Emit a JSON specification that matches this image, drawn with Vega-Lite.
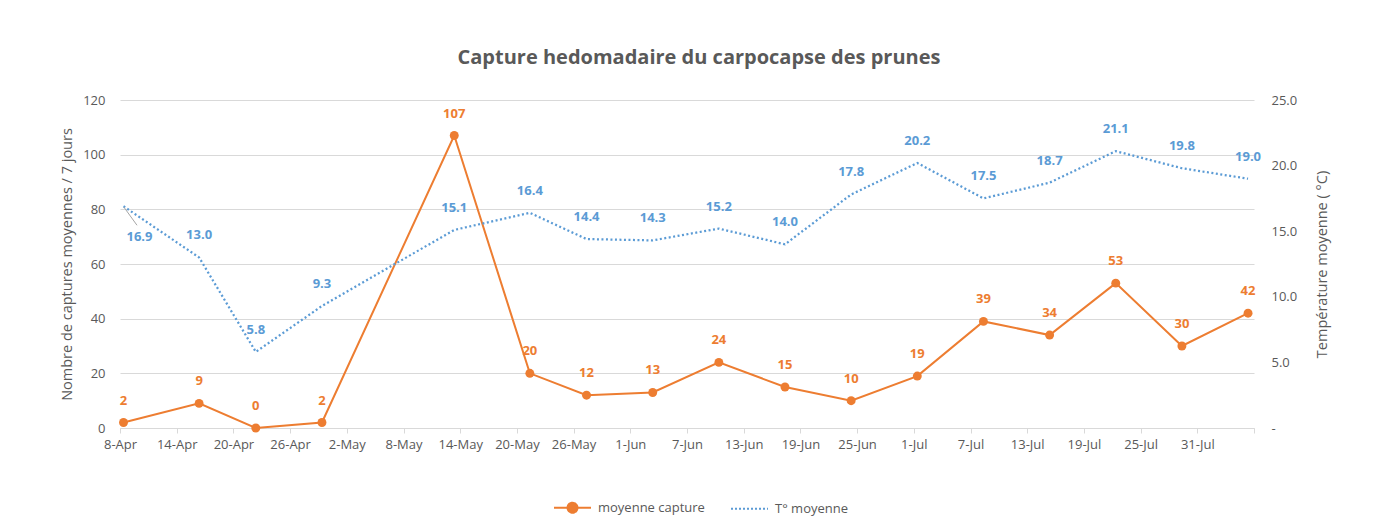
{
  "$schema": "https://vega.github.io/schema/vega-lite/v6.json",
  "width": 1134,
  "height": 328,
  "autosize": {"type": "none"},
  "padding": {"left": 120, "top": 100, "right": 134, "bottom": 99},
  "background": "white",
  "title": {
    "text": "Capture hedomadaire du carpocapse des prunes",
    "fontSize": 20,
    "font": "Open Sans",
    "fontWeight": "bold",
    "color": "#595959",
    "anchor": "middle",
    "dx": 12,
    "offset": 26
  },
  "config": {
    "font": "Open Sans",
    "view": {"stroke": null},
    "axis": {
      "labelColor": "#595959",
      "titleColor": "#595959",
      "labelFontSize": 13,
      "titleFontSize": 14.5,
      "titleFontWeight": "normal",
      "gridColor": "#D9D9D9",
      "domainColor": "#D9D9D9",
      "tickColor": "#D9D9D9"
    }
  },
  "data": {
    "values": [
      {"date": "2019-04-08", "capture": 2, "temp": 16.9},
      {"date": "2019-04-16", "capture": 9, "temp": 13.0},
      {"date": "2019-04-22", "capture": 0, "temp": 5.8},
      {"date": "2019-04-29", "capture": 2, "temp": 9.3},
      {"date": "2019-05-13", "capture": 107, "temp": 15.1},
      {"date": "2019-05-21", "capture": 20, "temp": 16.4},
      {"date": "2019-05-27", "capture": 12, "temp": 14.4},
      {"date": "2019-06-03", "capture": 13, "temp": 14.3},
      {"date": "2019-06-10", "capture": 24, "temp": 15.2},
      {"date": "2019-06-17", "capture": 15, "temp": 14.0},
      {"date": "2019-06-24", "capture": 10, "temp": 17.8},
      {"date": "2019-07-01", "capture": 19, "temp": 20.2},
      {"date": "2019-07-08", "capture": 39, "temp": 17.5},
      {"date": "2019-07-15", "capture": 34, "temp": 18.7},
      {"date": "2019-07-22", "capture": 53, "temp": 21.1},
      {"date": "2019-07-29", "capture": 30, "temp": 19.8},
      {"date": "2019-08-05", "capture": 42, "temp": 19.0}
    ]
  },
  "encoding": {
    "x": {
      "field": "date",
      "type": "temporal",
      "scale": {
        "type": "utc",
        "domain": [
          {"year": 2019, "month": 4, "date": 8, "utc": true},
          {"year": 2019, "month": 8, "date": 6, "utc": true}
        ]
      },
      "axis": {
        "title": null,
        "grid": false,
        "labelExpr": "utcFormat(datum.value, '%m-%d') == '08-06' ? '' : utcFormat(datum.value, '%-d-%b')",
        "labelAngle": 0,
        "tickSize": 5,
        "labelPadding": 5,
        "labelDx": 3.5,
        "labelFlush": false,
        "labelOverlap": false,
        "values": [
          {"year": 2019, "month": 4, "date": 8, "utc": true},
          {"year": 2019, "month": 4, "date": 14, "utc": true},
          {"year": 2019, "month": 4, "date": 20, "utc": true},
          {"year": 2019, "month": 4, "date": 26, "utc": true},
          {"year": 2019, "month": 5, "date": 2, "utc": true},
          {"year": 2019, "month": 5, "date": 8, "utc": true},
          {"year": 2019, "month": 5, "date": 14, "utc": true},
          {"year": 2019, "month": 5, "date": 20, "utc": true},
          {"year": 2019, "month": 5, "date": 26, "utc": true},
          {"year": 2019, "month": 6, "date": 1, "utc": true},
          {"year": 2019, "month": 6, "date": 7, "utc": true},
          {"year": 2019, "month": 6, "date": 13, "utc": true},
          {"year": 2019, "month": 6, "date": 19, "utc": true},
          {"year": 2019, "month": 6, "date": 25, "utc": true},
          {"year": 2019, "month": 7, "date": 1, "utc": true},
          {"year": 2019, "month": 7, "date": 7, "utc": true},
          {"year": 2019, "month": 7, "date": 13, "utc": true},
          {"year": 2019, "month": 7, "date": 19, "utc": true},
          {"year": 2019, "month": 7, "date": 25, "utc": true},
          {"year": 2019, "month": 7, "date": 31, "utc": true},
          {"year": 2019, "month": 8, "date": 6, "utc": true}
        ]
      }
    }
  },
  "layer": [
    {
      "encoding": {
        "y": {
          "field": "capture",
          "type": "quantitative",
          "scale": {"domain": [0, 120], "nice": false},
          "axis": {
            "title": "Nombre de captures moyennes / 7 jours",
            "values": [0, 20, 40, 60, 80, 100, 120],
            "grid": true,
            "domain": false,
            "ticks": false,
            "labelPadding": 15,
            "titlePadding": 8
          }
        }
      },
      "layer": [
        {
          "mark": {"type": "line", "strokeWidth": 2, "xOffset": 3.5},
          "encoding": {
            "color": {
              "datum": "moyenne capture",
              "scale": {"domain": ["moyenne capture", "T° moyenne"], "range": ["#ED7D31", "#5B9BD5"]},
              "legend": {
                "orient": "none",
                "legendX": 433,
                "legendY": 388,
                "direction": "horizontal",
                "title": null,
                "labelFontSize": 13,
                "labelColor": "#595959",
                "symbolSize": 1369,
                "symbolStrokeWidth": 2,
                "columnPadding": 22,
                "labelOffset": 6,
                "encode": {
                  "symbols": {
                    "update": {
                      "shape": {"signal": "datum.value === 'moyenne capture' ? 'M-1,0L-0.27,0M0.27,0L1,0M0.27,0A0.27,0.27 0 1,1 -0.27,0A0.27,0.27 0 1,1 0.27,0Z' : 'M-1,0L1,0'"},
                      "fill": {"signal": "datum.value === 'moyenne capture' ? '#ED7D31' : 'transparent'"},
                      "strokeDash": {"signal": "datum.value === 'moyenne capture' ? [1,0] : [2,2]"}
                    }
                  }
                }
              }
            }
          }
        },
        {
          "mark": {"type": "point", "filled": true, "size": 80, "color": "#ED7D31", "opacity": 1, "xOffset": 3.5},
          "encoding": {}
        },
        {
          "mark": {"type": "text", "color": "#ED7D31", "fontWeight": "bold", "fontSize": 13, "baseline": "middle", "dy": -22, "xOffset": 3.5},
          "encoding": {"text": {"field": "capture", "type": "quantitative"}}
        }
      ]
    },
    {
      "encoding": {
        "y": {
          "field": "temp",
          "type": "quantitative",
          "scale": {"domain": [0, 25], "nice": false},
          "axis": {
            "orient": "right",
            "title": "Température moyenne ( °C)",
            "titleAngle": 270,
            "values": [0, 5, 10, 15, 20, 25],
            "labelExpr": "datum.value == 0 ? '-' : format(datum.value, '.1f')",
            "labelAlign": "left",
            "grid": false,
            "domain": false,
            "ticks": false,
            "labelPadding": 17,
            "titlePadding": 33
          }
        }
      },
      "layer": [
        {
          "mark": {"type": "line", "strokeWidth": 2.25, "strokeDash": [2, 2.5], "xOffset": 3.5},
          "encoding": {"color": {"datum": "T° moyenne"}}
        },
        {
          "transform": [{"filter": "datum.temp == 16.9"}],
          "mark": {"type": "rule", "color": "#A6A6A6", "strokeWidth": 1, "xOffset": 4, "yOffset": 1, "x2Offset": 17, "y2Offset": 19},
          "encoding": {"x2": {"field": "date"}, "y2": {"field": "temp"}}
        },
        {
          "transform": [{"filter": "datum.temp != 16.9"}],
          "mark": {"type": "text", "color": "#5B9BD5", "fontWeight": "bold", "fontSize": 13, "baseline": "middle", "dy": -22, "xOffset": 3.5},
          "encoding": {"text": {"field": "temp", "type": "quantitative", "format": ".1f"}}
        },
        {
          "transform": [{"filter": "datum.temp == 16.9"}],
          "mark": {"type": "text", "color": "#5B9BD5", "fontWeight": "bold", "fontSize": 13, "baseline": "middle", "dx": 16, "dy": 31, "xOffset": 3.5},
          "encoding": {"text": {"field": "temp", "type": "quantitative", "format": ".1f"}}
        }
      ]
    }
  ],
  "resolve": {"scale": {"y": "independent"}}
}
